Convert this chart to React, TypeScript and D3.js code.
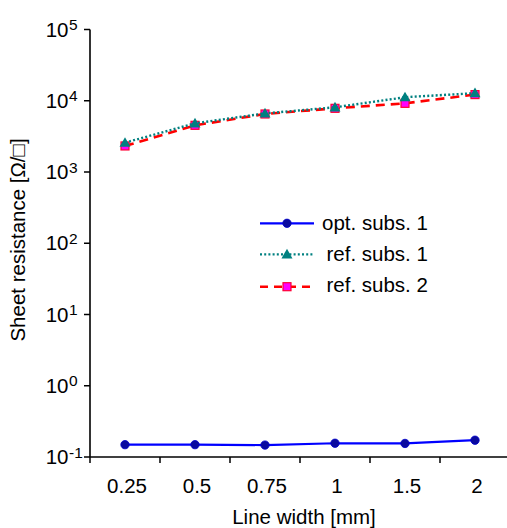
import React from "react";
import * as d3 from "d3";

const categories = ["0.25", "0.5", "0.75", "1", "1.5", "2"];
const optSubs1 = [0.149, 0.149, 0.147, 0.156, 0.155, 0.172];
const refSubs1 = [2580, 4820, 6650, 8090, 11200, 12800];
const refSubs2 = [2320, 4520, 6520, 7830, 9200, 12200];
const yTickExps = [-1, 0, 1, 2, 3, 4, 5];
const legendLabels = ["opt. subs. 1", "ref. subs. 1", "ref. subs. 2"];

const W = 507;
const H = 528;
const FONT = "'Liberation Sans', Arial, sans-serif";
const FS = 20.5;

export default function App() {
  const x = d3.scaleBand<string>().domain(categories).range([90, 510]).padding(0);
  const y = d3.scaleLog().domain([0.1, 1e5]).range([457, 29.5]);
  const cx = (c: string) => (x(c) as number) + x.bandwidth() / 2;

  const line = d3
    .line<[string, number]>()
    .x((d) => cx(d[0]))
    .y((d) => y(d[1]));

  const zip = (vals: number[]) => categories.map((c, i) => [c, vals[i]] as [string, number]);

  const tri = (px: number, py: number, s = 5.5) =>
    `M${px},${py - s}L${px + s},${py + s * 0.75}L${px - s},${py + s * 0.75}Z`;

  const legendY = [223.3, 254.3, 286.7];

  return (
    <svg
      width={W}
      height={H}
      style={{ position: "absolute", left: 0, top: 0, background: "#fff" }}
      fontFamily={FONT}
    >
      {/* axes */}
      <line x1={90} y1={29.5} x2={90} y2={457} stroke="#000" strokeWidth={1.6} />
      <line x1={90} y1={457} x2={507} y2={457} stroke="#000" strokeWidth={1.6} />
      {yTickExps.map((e) => {
        const ty = y(Math.pow(10, e));
        return (
          <g key={e}>
            <line x1={84} x2={90} y1={ty} y2={ty} stroke="#000" strokeWidth={1.5} />
            <text x={68.5} y={ty + 7} fontSize={FS} textAnchor="end" fill="#000">
              10
            </text>
            <text x={69} y={ty + 0.5} fontSize={15.5} fill="#000">
              {e < 0 ? "-" + Math.abs(e) : String(e)}
            </text>
          </g>
        );
      })}
      {categories.map((c) => {
        const tx = x(c) as number;
        return (
          <g key={c}>
            <line x1={tx} x2={tx} y1={457} y2={463} stroke="#000" strokeWidth={1.5} />
            <text x={cx(c) + 2} y={493} fontSize={FS} textAnchor="middle" fill="#000">
              {c}
            </text>
          </g>
        );
      })}
      <text x={304} y={524} fontSize={FS} textAnchor="middle" fill="#000">
        Line width [mm]
      </text>
      <text
        transform={`translate(25,240) rotate(-90)`}
        fontSize={FS}
        textAnchor="middle"
        fill="#000"
      >
        Sheet resistance [Ω/□]
      </text>

      {/* series */}
      <path d={line(zip(optSubs1)) || ""} fill="none" stroke="#0000ff" strokeWidth={2.2} />
      {zip(optSubs1).map((d, i) => (
        <circle key={i} cx={cx(d[0])} cy={y(d[1])} r={4.2} fill="#0a0a9e" stroke="#0000cc" strokeWidth={0.8} />
      ))}

      <path
        d={line(zip(refSubs2)) || ""}
        fill="none"
        stroke="#ff0000"
        strokeWidth={2.6}
        strokeDasharray="9,6"
      />
      {zip(refSubs2).map((d, i) => (
        <rect
          key={i}
          x={cx(d[0]) - 4}
          y={y(d[1]) - 4}
          width={8}
          height={8}
          fill="#ff00ff"
          stroke="#ff0033"
          strokeWidth={1.2}
        />
      ))}

      <path
        d={line(zip(refSubs1)) || ""}
        fill="none"
        stroke="#008080"
        strokeWidth={2.4}
        strokeDasharray="2,2.2"
      />
      {zip(refSubs1).map((d, i) => (
        <path key={i} d={tri(cx(d[0]), y(d[1]))} fill="#008080" />
      ))}

      {/* legend */}
      <line x1={260} x2={314} y1={legendY[0]} y2={legendY[0]} stroke="#0000ff" strokeWidth={2.2} />
      <circle cx={287} cy={legendY[0]} r={4.2} fill="#0a0a9e" stroke="#0000cc" strokeWidth={0.8} />
      <line
        x1={260}
        x2={314}
        y1={legendY[1]}
        y2={legendY[1]}
        stroke="#008080"
        strokeWidth={2.2}
        strokeDasharray="2,2.2"
      />
      <path d={tri(287, legendY[1])} fill="#008080" />
      <line
        x1={260}
        x2={314}
        y1={legendY[2]}
        y2={legendY[2]}
        stroke="#ff0000"
        strokeWidth={2.4}
        strokeDasharray="8,6"
      />
      <rect x={283} y={legendY[2] - 4} width={8} height={8} fill="#ff00ff" stroke="#ff0033" strokeWidth={1.2} />

      <text x={322} y={230} fontSize={FS} fill="#000">
        {legendLabels[0]}
      </text>
      <text x={326.5} y={261} fontSize={FS} fill="#000">
        {legendLabels[1]}
      </text>
      <text x={326.5} y={292.3} fontSize={FS} fill="#000">
        {legendLabels[2]}
      </text>
    </svg>
  );
}
